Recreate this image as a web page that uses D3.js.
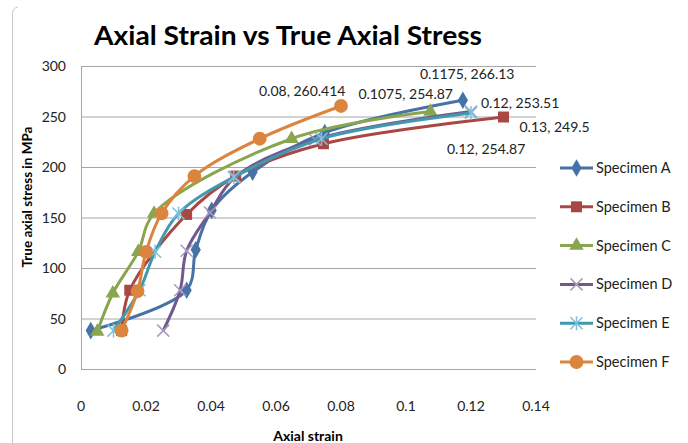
<!DOCTYPE html>
<html>
<head>
<meta charset="utf-8">
<style>
  body { margin: 0; background: #fff; }
  text { font-family: Lato, "Open Sans", sans-serif; }
</style>
<script src="https://d3js.org/d3.v7.min.js"></script>
</head>
<body>
<svg width="688" height="443"></svg>
<script>
// strain / stress
var names = ["Specimen A", "Specimen B", "Specimen C", "Specimen D", "Specimen E", "Specimen F"];
var colors = ["#4572A7", "#AA4643", "#89A54E", "#71588F", "#4198AF", "#DB843D"];
var markColors = ["#4572A7", "#AA4643", "#89A54E", "#A99BBD", "#7CC3D9", "#DB843D"];

var strainA = [0.003, 0.0325, 0.0353, 0.0402, 0.0528, 0.075, 0.1175];
var stressA = [38, 78, 118, 157, 195, 234, 266.13];
var strainB = [0.0125, 0.015, 0.0325, 0.0476, 0.0746, 0.13];
var stressB = [38, 78, 153, 191, 223, 249.5];
var strainC = [0.005, 0.0098, 0.0176, 0.0225, 0.0648, 0.1075];
var stressC = [37, 75, 116, 154, 228, 254.87];
var strainD = [0.0253, 0.0305, 0.0325, 0.0397, 0.0474, 0.072, 0.12];
var stressD = [38, 78, 117, 155, 190, 227, 254.87];
var strainE = [0.01, 0.018, 0.0228, 0.030, 0.047, 0.074, 0.12];
var stressE = [38, 78, 116, 154, 190, 228, 253.51];
var strainF = [0.0125, 0.0174, 0.02, 0.0248, 0.0349, 0.055, 0.08];
var stressF = [38, 77, 116, 154, 191, 228, 260.414];

var xTicks = [0, 0.02, 0.04, 0.06, 0.08, 0.1, 0.12, 0.14];
var yTicks = [0, 50, 100, 150, 200, 250, 300];

// labels on the last point of each series
var endLabels = [
  { s: 5, text: "0.08, 260.414", dx: -82, dy: -10 },
  { s: 0, text: "0.1175, 266.13", dx: -43, dy: -21 },
  { s: 2, text: "0.1075, 254.87", dx: -72, dy: -13 },
  { s: 4, text: "0.12, 253.51", dx: 10, dy: -5 },
  { s: 1, text: "0.13, 249.5", dx: 16, dy: 15 },
  { s: 3, text: "0.12, 254.87", dx: -24, dy: 42 }
];

var strains = [strainA, strainB, strainC, strainD, strainE, strainF];
var stresses = [stressA, stressB, stressC, stressD, stressE, stressF];
var series = names.map(function (n, i) {
  return strains[i].map(function (v, j) { return { x: v, y: stresses[i][j] }; });
});

var svg = d3.select("svg");
var x = d3.scaleLinear().domain([0, 0.14]).range([81, 536]);
var y = d3.scaleLinear().domain([0, 300]).range([369, 66]);

// chart frame edge on the left
svg.append("path").attr("d", "M12.5,443 L12.5,14 Q12.5,8 18,7")
  .attr("fill", "none").attr("stroke", "#c4c8c8").attr("stroke-width", 1);

svg.append("text")
  .attr("x", 288).attr("y", 45)
  .attr("text-anchor", "middle")
  .attr("font-size", 27).attr("font-weight", "bold")
  .attr("textLength", 388).attr("lengthAdjust", "spacingAndGlyphs")
  .text("Axial Strain vs True Axial Stress");

// gridlines
svg.append("g").selectAll("line")
  .data(yTicks.slice(1))
  .enter().append("line")
  .attr("x1", x(0)).attr("x2", x(0.14))
  .attr("y1", function (d) { return y(d) + 0.5; })
  .attr("y2", function (d) { return y(d) + 0.5; })
  .attr("stroke", "#a6a6a6");

// axis lines
svg.append("line").attr("x1", x(0) + 0.5).attr("x2", x(0) + 0.5)
  .attr("y1", y(300)).attr("y2", y(0)).attr("stroke", "#a6a6a6");
svg.append("line").attr("x1", x(0)).attr("x2", x(0.14))
  .attr("y1", y(0) + 0.5).attr("y2", y(0) + 0.5).attr("stroke", "#a6a6a6");

svg.append("g").selectAll("text")
  .data(yTicks).enter().append("text")
  .attr("x", 66).attr("y", function (d) { return y(d) + 5; })
  .attr("text-anchor", "end").attr("font-size", 14).attr("fill", "#222")
  .text(function (d) { return d; });

svg.append("g").selectAll("text")
  .data(xTicks).enter().append("text")
  .attr("x", function (d) { return x(d); }).attr("y", 411)
  .attr("text-anchor", "middle").attr("font-size", 14).attr("fill", "#222")
  .text(function (d) { return d; });

svg.append("text")
  .attr("x", 308).attr("y", 441)
  .attr("text-anchor", "middle").attr("font-size", 14).attr("font-weight", "bold")
  .text("Axial strain");

svg.append("text")
  .attr("transform", "translate(32,197) rotate(-90)")
  .attr("text-anchor", "middle").attr("font-size", 13.5).attr("font-weight", "bold")
  .text("True axial stress in MPa");

var line = d3.line()
  .x(function (d) { return x(d.x); })
  .y(function (d) { return y(d.y); })
  .curve(d3.curveCatmullRom.alpha(0.5));

var shapes = [d3.symbolDiamond, d3.symbolSquare, d3.symbolTriangle, "x", "star", d3.symbolCircle];
var sizes = [90, 120, 90, 0, 0, 150];

function drawMarker(g, i, cx, cy) {
  var t = shapes[i];
  if (t === "x" || t === "star") {
    var r = 6;
    var p = "M" + (cx - r) + "," + (cy - r) + "L" + (cx + r) + "," + (cy + r) +
      "M" + (cx - r) + "," + (cy + r) + "L" + (cx + r) + "," + (cy - r);
    if (t === "star") p += "M" + cx + "," + (cy - r - 1) + "L" + cx + "," + (cy + r + 1);
    g.append("path").attr("d", p).attr("stroke", markColors[i])
      .attr("stroke-width", 1.5).attr("fill", "none");
  } else {
    g.append("path")
      .attr("d", d3.symbol().type(t).size(sizes[i])())
      .attr("transform", "translate(" + cx + "," + cy + ")")
      .attr("fill", markColors[i]);
  }
}

series.forEach(function (pts, i) {
  var g = svg.append("g");
  g.append("path").datum(pts)
    .attr("d", line)
    .attr("fill", "none")
    .attr("stroke", colors[i])
    .attr("stroke-width", 3);
  pts.forEach(function (d) { drawMarker(g, i, x(d.x), y(d.y)); });
});

endLabels.forEach(function (l) {
  var pts = series[l.s];
  var last = pts[pts.length - 1];
  svg.append("text")
    .attr("x", x(last.x) + l.dx).attr("y", y(last.y) + l.dy)
    .attr("font-size", 14).attr("fill", "#222")
    .text(l.text);
});

// legend
var leg = svg.append("g");
names.forEach(function (n, i) {
  var ly = 168 + i * 38.8;
  leg.append("line").attr("x1", 560).attr("x2", 593)
    .attr("y1", ly).attr("y2", ly)
    .attr("stroke", colors[i]).attr("stroke-width", 3);
  drawMarker(leg, i, 576.5, ly);
  leg.append("text").attr("x", 596).attr("y", ly + 5)
    .attr("font-size", 14.5).attr("fill", "#222")
    .text(n);
});
</script>
</body>
</html>
